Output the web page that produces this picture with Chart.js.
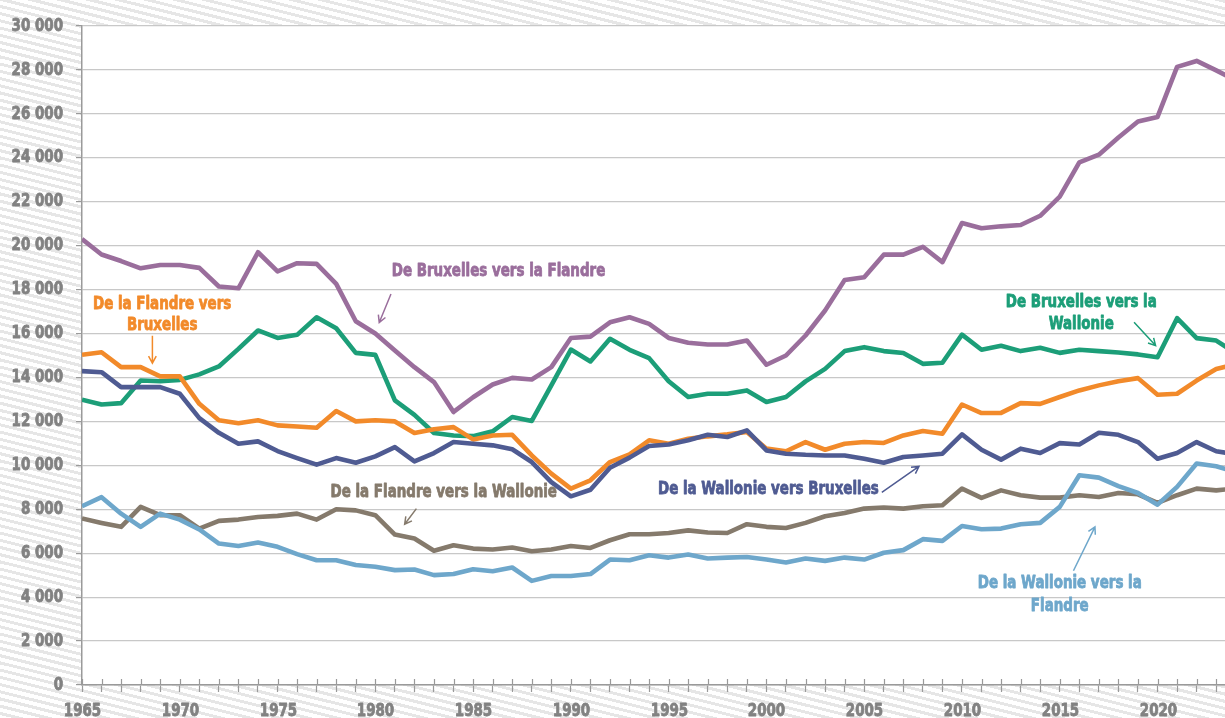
<!DOCTYPE html>
<html>
<head>
<meta charset="utf-8">
<script src="https://cdn.jsdelivr.net/npm/chart.js@4/dist/chart.umd.min.js"></script>
<style>
  html, body { margin: 0; padding: 0; }
  body {
    width: 1225px; height: 718px; overflow: hidden;
    background: repeating-linear-gradient(194deg, #e6e6e6 0px, #e6e6e6 3px, #ffffff 3px, #ffffff 7px);
  }
  #wrap { position: relative; width: 1225px; height: 718px; }
</style>
</head>
<body>
<div id="wrap"><canvas id="myChart"></canvas></div>
<script>
const years = [1965, 1966, 1967, 1968, 1969, 1970, 1971, 1972, 1973, 1974,
  1975, 1976, 1977, 1978, 1979, 1980, 1981, 1982, 1983, 1984,
  1985, 1986, 1987, 1988, 1989, 1990, 1991, 1992, 1993, 1994,
  1995, 1996, 1997, 1998, 1999, 2000, 2001, 2002, 2003, 2004,
  2005, 2006, 2007, 2008, 2009, 2010, 2011, 2012, 2013, 2014,
  2015, 2016, 2017, 2018, 2019, 2020, 2021, 2022, 2023, 2024];

// De Bruxelles vers la Flandre
const bxlToFlandre = [20300, 19600, 19300, 18970, 19120, 19120, 18990, 18140, 18060, 19700,
  18830, 19200, 19170, 18260, 16560, 16000, 15230, 14470, 13790, 12430,
  13100, 13680, 13980, 13910, 14470, 15800, 15860, 16510, 16740, 16440,
  15800, 15580, 15500, 15500, 15680, 14580, 15000, 15910, 17050, 18440,
  18560, 19590, 19590, 19950, 19250, 21030, 20790, 20880, 20940, 21360,
  22230, 23790, 24140, 24920, 25650, 25860, 28140, 28410, 27980, 27520];

// De Bruxelles vers la Wallonie
const bxlToWallonie = [12990, 12770, 12830, 13860, 13830, 13890, 14140, 14500, 15300, 16140,
  15800, 15940, 16740, 16240, 15120, 15030, 12960, 12300, 11470, 11360,
  11330, 11550, 12200, 12020, 13640, 15270, 14730, 15760, 15260, 14880,
  13830, 13110, 13260, 13260, 13410, 12880, 13110, 13820, 14390, 15200,
  15380, 15200, 15110, 14620, 14670, 15950, 15260, 15440, 15200, 15350,
  15120, 15260, 15200, 15140, 15050, 14920, 16700, 15790, 15680, 15100];

// De la Flandre vers Bruxelles
const flandreToBxl = [15030, 15150, 14470, 14470, 14050, 14050, 12800, 12050, 11920, 12050,
  11820, 11770, 11710, 12470, 12000, 12050, 12000, 11470, 11640, 11740,
  11180, 11360, 11390, 10450, 9620, 8940, 9320, 10150, 10500, 11140,
  10980, 11210, 11320, 11410, 11520, 10760, 10640, 11060, 10710, 10980,
  11060, 11020, 11360, 11560, 11440, 12770, 12380, 12390, 12830, 12800,
  13110, 13410, 13640, 13830, 13970, 13210, 13260, 13860, 14390, 14600];

// De la Wallonie vers Bruxelles
const wallonieToBxl = [14290, 14240, 13560, 13560, 13560, 13260, 12150, 11480, 10980, 11090,
  10650, 10330, 10030, 10330, 10120, 10410, 10830, 10180, 10560, 11060,
  10980, 10910, 10730, 10150, 9240, 8590, 8890, 9890, 10350, 10880,
  10950, 11140, 11390, 11290, 11590, 10680, 10530, 10480, 10450, 10450,
  10300, 10120, 10380, 10450, 10530, 11410, 10710, 10260, 10760, 10560,
  11010, 10950, 11480, 11390, 11060, 10300, 10560, 11060, 10640, 10500];

// De la Flandre vers la Wallonie
const flandreToWallonie = [7580, 7380, 7200, 8110, 7730, 7730, 7120, 7470, 7530, 7650,
  7700, 7800, 7530, 8000, 7950, 7730, 6850, 6670, 6110, 6360,
  6210, 6170, 6260, 6090, 6170, 6330, 6240, 6590, 6860, 6860,
  6920, 7040, 6940, 6920, 7320, 7200, 7150, 7380, 7680, 7830,
  8030, 8080, 8030, 8140, 8180, 8940, 8520, 8860, 8640, 8530,
  8530, 8640, 8560, 8740, 8680, 8290, 8640, 8940, 8860, 8950];

// De la Wallonie vers la Flandre
const wallonieToFlandre = [8140, 8550, 7800, 7200, 7800, 7530, 7080, 6440, 6330, 6490,
  6290, 5960, 5680, 5680, 5460, 5380, 5230, 5260, 5000, 5050,
  5270, 5180, 5350, 4740, 4960, 4960, 5050, 5710, 5680, 5910,
  5800, 5940, 5760, 5800, 5830, 5710, 5580, 5760, 5650, 5800,
  5710, 6020, 6140, 6640, 6560, 7240, 7090, 7120, 7320, 7380,
  8110, 9550, 9440, 9050, 8740, 8210, 9020, 10080, 9960, 9700];

const seriesNames = [
  'De Bruxelles vers la Flandre',
  'De Bruxelles vers la Wallonie',
  'De la Flandre vers Bruxelles',
  'De la Wallonie vers Bruxelles',
  'De la Flandre vers la Wallonie',
  'De la Wallonie vers la Flandre'
];
const seriesValues = [bxlToFlandre, bxlToWallonie, flandreToBxl, wallonieToBxl, flandreToWallonie, wallonieToFlandre];
const seriesColors = ['#9a6e9c', '#1c9e78', '#f28a2a', '#4f5b92', '#857a6c', '#6ea7cb'];

// labels placed in data units: lines, centre x, y per line, arrow from / to
const notes = [
  { lines: ['De Bruxelles vers la Flandre'], x: 1986.3, y: [18830], color: seriesColors[0], from: [1980.8, 17800], to: [1980.2, 16500] },
  { lines: ['De la Flandre vers', 'Bruxelles'], x: 1969.1, y: [17320, 16360], color: seriesColors[2], from: [1968.6, 15900], to: [1968.6, 14650] },
  { lines: ['De Bruxelles vers la', 'Wallonie'], x: 2016.1, y: [17420, 16410], color: seriesColors[1], from: [2018.8, 16510], to: [2019.9, 15450] },
  { lines: ['De la Flandre vers la Wallonie'], x: 1983.5, y: [8790], color: seriesColors[4], from: [1982.1, 8030], to: [1981.5, 7320] },
  { lines: ['De la Wallonie vers Bruxelles'], x: 2000.1, y: [8890], color: seriesColors[3], from: [2005.9, 8770], to: [2007.8, 9950] },
  { lines: ['De la Wallonie vers la', 'Flandre'], x: 2015.0, y: [4620, 3590], color: seriesColors[5], from: [2015.7, 5200], to: [2016.8, 7200] }
];

const fontFamily = '"Liberation Sans Narrow", "DejaVu Sans Condensed", sans-serif';
const squeeze = 0.83;
const tickGrey = '#828282';

// draw text squeezed horizontally (condensed look), with a thin stroke to keep it heavy
function narrowText(ctx, text, x, y, align, color) {
  ctx.save();
  ctx.translate(x, y);
  ctx.scale(squeeze, 1);
  ctx.textAlign = align;
  ctx.textBaseline = 'middle';
  ctx.fillStyle = color;
  ctx.strokeStyle = color;
  ctx.lineWidth = 0.8;
  ctx.lineJoin = 'round';
  ctx.fillText(text, 0, 0);
  ctx.strokeText(text, 0, 0);
  ctx.restore();
}

const plotBackground = {
  id: 'plotBackground',
  beforeDraw(chart) {
    const { ctx, chartArea: a } = chart;
    ctx.save();
    ctx.fillStyle = '#ffffff';
    ctx.fillRect(a.left, a.top, a.right - a.left, a.bottom - a.top);
    ctx.restore();
  }
};

const axisLabels = {
  id: 'axisLabels',
  afterDraw(chart) {
    const { ctx, scales: { x, y } } = chart;
    ctx.save();
    ctx.font = 'bold 18px ' + fontFamily;
    y.ticks.forEach(t => narrowText(ctx, t.label, x.left - 19, y.getPixelForValue(t.value), 'right', tickGrey));
    ctx.strokeStyle = '#9a9a9a';
    ctx.lineWidth = 1.2;
    x.ticks.forEach(t => {
      const px = Math.round(x.getPixelForValue(t.value)) + 0.5;
      ctx.beginPath();
      ctx.moveTo(px, x.top - 6);
      ctx.lineTo(px, x.top);
      ctx.stroke();
      if (t.label) narrowText(ctx, t.label, px, x.top + 26, 'center', tickGrey);
    });
    ctx.restore();
  }
};

const annotations = {
  id: 'annotations',
  afterDatasetsDraw(chart) {
    const { ctx, scales: { x, y } } = chart;
    ctx.save();
    notes.forEach(n => {
      ctx.font = 'bold 18px ' + fontFamily;
      n.lines.forEach((t, i) => narrowText(ctx, t, x.getPixelForValue(n.x), y.getPixelForValue(n.y[i]), 'center', n.color));

      const x1 = x.getPixelForValue(n.from[0]), y1 = y.getPixelForValue(n.from[1]);
      const x2 = x.getPixelForValue(n.to[0]), y2 = y.getPixelForValue(n.to[1]);
      const ang = Math.atan2(y2 - y1, x2 - x1);
      ctx.strokeStyle = n.color;
      ctx.lineWidth = 1.5;
      ctx.beginPath();
      ctx.moveTo(x1, y1);
      ctx.lineTo(x2, y2);
      ctx.moveTo(x2 - 8 * Math.cos(ang - 0.5), y2 - 8 * Math.sin(ang - 0.5));
      ctx.lineTo(x2, y2);
      ctx.lineTo(x2 - 8 * Math.cos(ang + 0.5), y2 - 8 * Math.sin(ang + 0.5));
      ctx.stroke();
    });
    ctx.restore();
  }
};

const ctx = document.getElementById('myChart').getContext('2d');

const chart = new Chart(ctx, {
  type: 'line',
  data: {
    datasets: seriesValues.map((vals, i) => ({
      label: seriesNames[i],
      data: vals.map((v, j) => ({ x: years[j], y: v })),
      borderColor: seriesColors[i],
      backgroundColor: seriesColors[i],
      borderWidth: 4.6,
      pointRadius: 0,
      tension: 0,
      borderJoinStyle: 'round'
    })).reverse()
  },
  options: {
    responsive: true,
    maintainAspectRatio: false,
    animation: false,
    layout: { padding: { top: 26, left: 0, right: 0, bottom: 0 } },
    plugins: {
      legend: { display: false },
      tooltip: { enabled: false }
    },
    scales: {
      x: {
        type: 'linear',
        min: 1965,
        max: 2023.45,
        afterFit(scale) { scale.height = 33; },
        grid: { drawOnChartArea: false, tickLength: 7, tickColor: '#9a9a9a', tickWidth: 1.2 },
        border: { color: '#9a9a9a', width: 1.5 },
        ticks: {
          stepSize: 1,
          autoSkip: false,
          includeBounds: false,
          maxRotation: 0,
          color: 'rgba(0,0,0,0)',
          font: { family: fontFamily, size: 18, weight: 'bold' },
          callback: v => (v % 5 === 0 ? String(v) : '')
        }
      },
      y: {
        min: 0,
        max: 30000,
        afterFit(scale) { scale.width = 82; },
        grid: { color: '#c8c8c8', lineWidth: 1.2, tickLength: 6, tickColor: '#9a9a9a' },
        border: { color: '#9a9a9a', width: 1.5 },
        ticks: {
          stepSize: 2000,
          color: 'rgba(0,0,0,0)',
          font: { family: fontFamily, size: 18, weight: 'bold' },
          callback: v => String(v).replace(/\B(?=(\d{3})+(?!\d))/g, ' ')
        }
      }
    }
  },
  plugins: [plotBackground, annotations, axisLabels]
});
</script>
</body>
</html>
